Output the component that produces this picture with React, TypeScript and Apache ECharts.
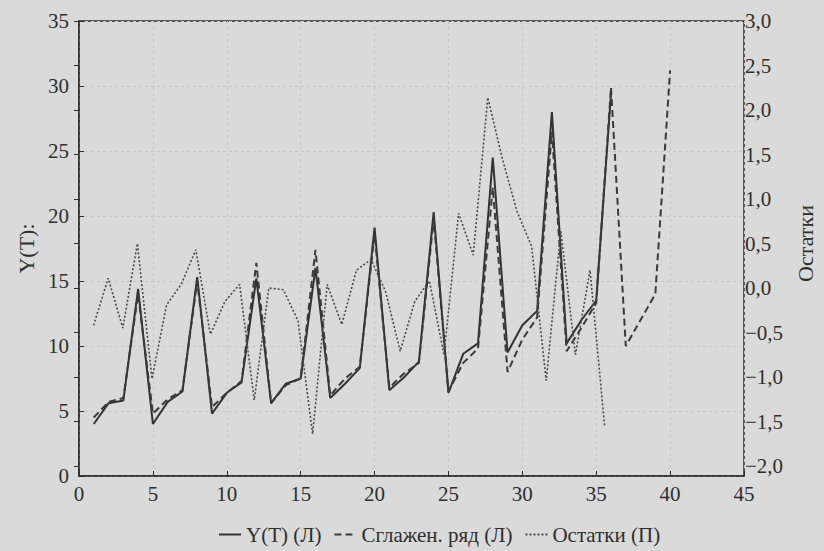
import React, { useEffect, useRef } from "react";
import * as echarts from "echarts";

const yT = [4.0, 5.6, 5.8, 14.4, 4.0, 5.7, 6.5, 15.3, 4.8, 6.4, 7.2, 15.2, 5.6, 7.1, 7.5, 16.0, 6.0, 7.1, 8.3, 19.1, 6.6, 7.6, 8.8, 20.3, 6.4, 9.4, 10.2, 24.5, 9.5, 11.6, 12.7, 28.0, 10.2, 12.0, 13.5, 29.4];
const smoothed = [4.5, 5.7, 6.0, 14.0, 4.8, 5.9, 6.6, 15.0, 5.3, 6.4, 7.3, 16.4, 5.6, 7.0, 7.5, 17.4, 6.2, 7.5, 8.4, 18.6, 6.8, 7.9, 8.7, 19.8, 6.5, 8.7, 9.8, 22.2, 8.0, 10.5, 12.2, 26.5, 9.6, 11.4, 13.3, 29.9, 10.0, 12.0, 14.0, 31.2];
const residuals = [-0.42, 0.11, -0.45, 0.5, -1.02, -0.19, 0.04, 0.43, -0.52, -0.15, 0.04, -1.26, 0.0, -0.02, -0.37, -1.64, 0.04, -0.41, 0.2, 0.32, -0.04, -0.71, -0.15, 0.08, -0.75, 0.84, 0.37, 2.14, 1.45, 0.86, 0.47, -1.04, 0.64, -0.75, 0.2, -1.55];
const seriesNames = ["Y(T) (Л)", "Сглажен. ряд (Л)", "Остатки (П)"];
const leftAxisName = "Y(T):";
const rightAxisName = "Остатки";

const toPairs = (arr: number[]) => arr.map((v, i) => [i + 1, v]);

const FONT = "Liberation Serif";
const INK = "#2e2e2e";

export default function App() {
  const ref = useRef<HTMLDivElement>(null);
  useEffect(() => {
    if (!ref.current) return;
    const chart = echarts.init(ref.current, undefined, { renderer: "svg" });
    const labelStyle = { color: INK, fontFamily: FONT, fontSize: 21 };
    const grid = { show: true, lineStyle: { color: "#c8c8c8", type: [3, 3], width: 1 } };
    chart.setOption({
      animation: false,
      backgroundColor: "#dadada",
      textStyle: { fontFamily: FONT },
      grid: [
        { left: 79, right: 80, top: 21, bottom: 75, show: true, borderColor: INK, borderWidth: 1.5, backgroundColor: "transparent" },
        { left: 79, right: 80, top: 21, bottom: 85, show: false },
      ],
      xAxis: [
        {
          type: "value", gridIndex: 0, min: 0, max: 45, interval: 5,
          axisLine: { show: true, lineStyle: { color: INK, width: 1.5 } },
          axisTick: { show: true, inside: true, length: 5, lineStyle: { color: INK } },
          axisLabel: { ...labelStyle, margin: 7 },
          splitLine: grid,
        },
        { type: "value", gridIndex: 1, min: 0, max: 45, show: false },
      ],
      yAxis: [
        {
          type: "value", gridIndex: 0, min: 0, max: 35, interval: 5, position: "left",
          name: leftAxisName, nameLocation: "middle", nameGap: 41, nameRotate: 90,
          nameTextStyle: { ...labelStyle, fontSize: 22 },
          axisLine: { show: true, lineStyle: { color: INK, width: 1.5 } },
          axisTick: { show: true, inside: true, length: 5, lineStyle: { color: INK } },
          axisLabel: { ...labelStyle, margin: 10 },
          splitLine: grid,
        },
        {
          type: "value", gridIndex: 1, min: -2, max: 3, interval: 0.5, position: "right",
          name: rightAxisName, nameLocation: "middle", nameGap: 54, nameRotate: 90,
          nameTextStyle: { ...labelStyle, fontSize: 22 },
          axisLine: { show: false },
          axisTick: { show: true, inside: true, length: 5, lineStyle: { color: INK } },
          axisLabel: {
            ...labelStyle, margin: 9,
            formatter: (v: number) => v.toFixed(1).replace(".", ",").replace("-", "\u2212"),
          },
          splitLine: { show: false },
        },
      ],
      legend: {
        left: 213, top: 519,
        itemWidth: 22, itemHeight: 12, itemGap: 12,
        itemStyle: { opacity: 0 },
        textStyle: { ...labelStyle, fontSize: 21 },
        data: seriesNames,
      },
      series: [
        {
          name: seriesNames[0], type: "line", xAxisIndex: 0, yAxisIndex: 0,
          data: toPairs(yT), showSymbol: false, symbol: "none",
          lineStyle: { color: "#333", width: 2 }, itemStyle: { color: "#333" },
        },
        {
          name: seriesNames[1], type: "line", xAxisIndex: 0, yAxisIndex: 0,
          data: toPairs(smoothed), showSymbol: false, symbol: "none",
          lineStyle: { color: "#3a3a3a", width: 2, type: [7, 4] }, itemStyle: { color: "#3a3a3a" },
        },
        {
          name: seriesNames[2], type: "line", xAxisIndex: 1, yAxisIndex: 1,
          data: toPairs(residuals), showSymbol: false, symbol: "none",
          lineStyle: { color: "#4a4a4a", width: 1.6, type: [2, 2] }, itemStyle: { color: "#4a4a4a" },
        },
      ],
    });
    return () => chart.dispose();
  }, []);
  return <div ref={ref} style={{ position: "fixed", left: 0, top: 0, width: 824, height: 551 }} />;
}
